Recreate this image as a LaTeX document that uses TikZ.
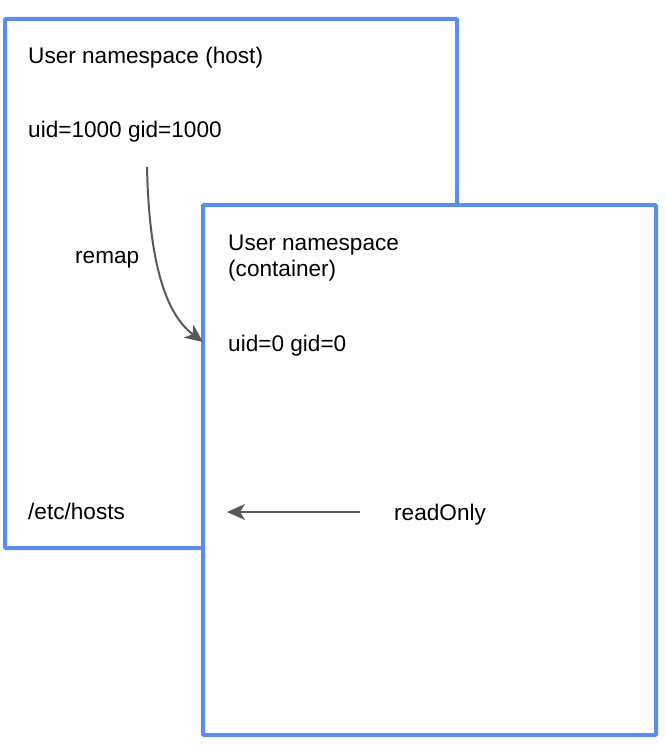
\documentclass[tikz,border=0pt]{standalone}
\usepackage{fontspec}
\setmainfont{Liberation Sans}
\usepackage{tikz}
\usetikzlibrary{arrows.meta}
\definecolor{nsblue}{RGB}{90,141,238}
\definecolor{arrowgray}{RGB}{89,89,89}
\tikzstyle{nsbox} = [rectangle, draw=nsblue, line width=4pt, inner sep=0pt, rounded corners=1pt]
\tikzstyle{label} = [inner sep=0pt, anchor=base west, font=\fontsize{22.6}{25.5}\selectfont]
\tikzstyle{link} = [draw=arrowgray, line width=2pt, -{Stealth[length=18pt, width=16pt, inset=5pt]}]

\begin{document}
\begin{tikzpicture}[x=1pt, y=-1pt]
	\useasboundingbox (0,0) rectangle (664,746);

	% Place nodes
	\node [nsbox, minimum width=452pt, minimum height=529pt] at (231,283.5) (host) {};
	\node [label] at (28,64) (hosttitle) {User namespace (host)};
	\node [label] at (28,138) (hostid) {uid=1000 gid=1000};
	\node [label] at (28,519) (hosts) {/etc/hosts};
	\node [label] at (75,263) (remap) {remap};

	\node [nsbox, fill=white, minimum width=453pt, minimum height=530pt] at (429.5,470) (container) {};
	\node [label, align=left] at (228,276) (contitle) {User namespace\\(container)};
	\node [label] at (228,351) (conid) {uid=0 gid=0};
	\node [label] at (394,520) (readonly) {readOnly};

	\coordinate (remapstart) at (147,167);
	\coordinate (remapend) at (203,342);
	\coordinate (rostart) at (360,512);
	\coordinate (roend) at (227,512);

	\draw[link](remapstart) .. controls (149,255) and (163,312) .. (remapend);
	\draw[link](rostart)--(roend);
\end{tikzpicture}
\end{document}
